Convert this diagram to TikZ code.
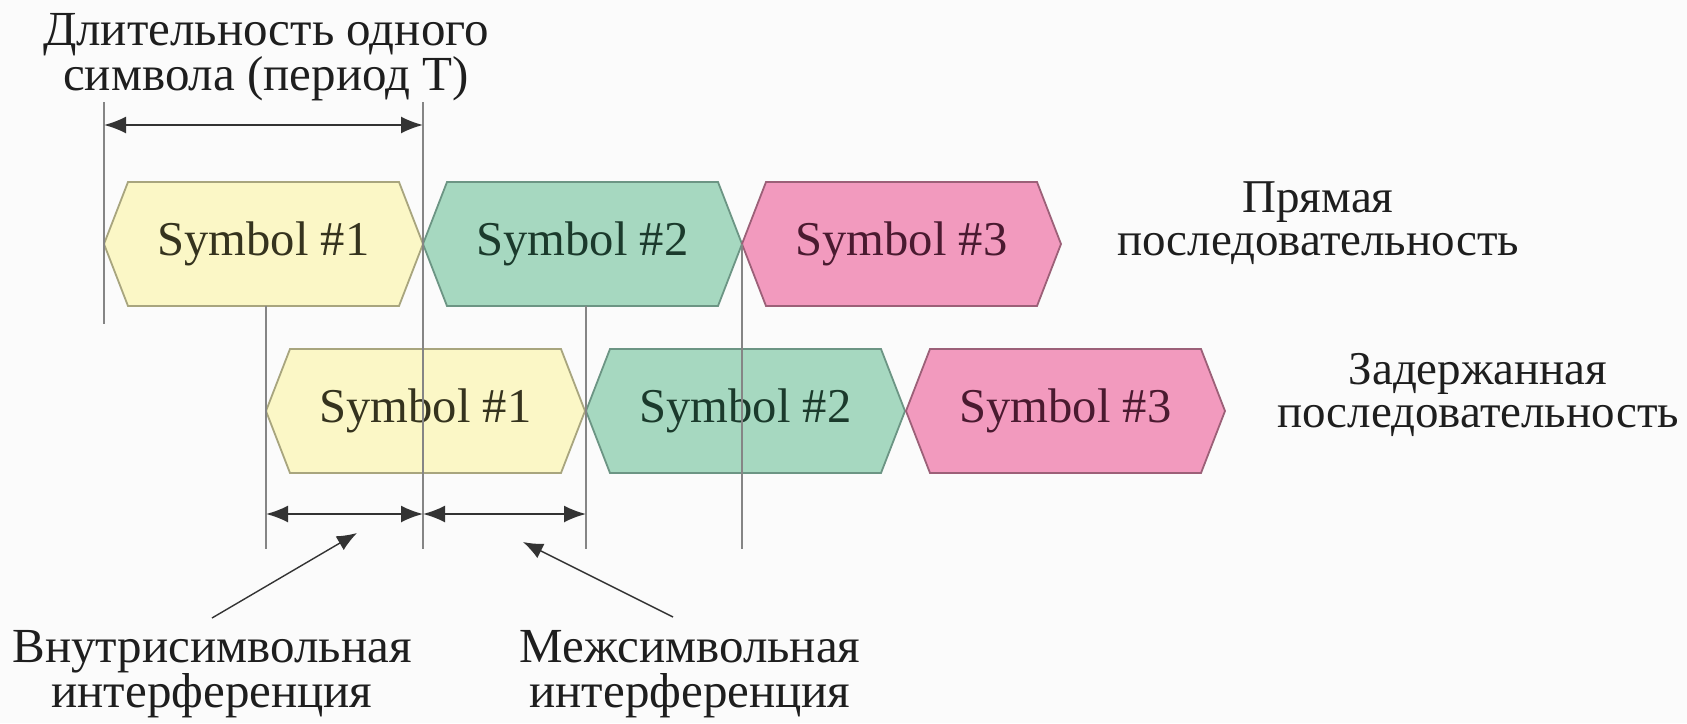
\documentclass[tikz,border=0pt]{standalone}
\usepackage{fontspec}
\setmainfont{Liberation Serif}
\usetikzlibrary{arrows.meta}
\definecolor{bgwhite}{HTML}{FBFBFB}
\definecolor{yelfill}{HTML}{FBF7C6}
\definecolor{yeledge}{HTML}{A8A57E}
\definecolor{yeltext}{HTML}{35331E}
\definecolor{grnfill}{HTML}{A6D8C0}
\definecolor{grnedge}{HTML}{6C9584}
\definecolor{grntext}{HTML}{1B3A2C}
\definecolor{pnkfill}{HTML}{F29ABE}
\definecolor{pnkedge}{HTML}{9C6078}
\definecolor{pnktext}{HTML}{4A1A30}
\definecolor{guidegray}{HTML}{858585}
\definecolor{arrowgray}{HTML}{333333}
\definecolor{textdark}{HTML}{1E1E1E}
\tikzset{
  hexyel/.style={fill=yelfill, draw=yeledge, line width=0.9pt},
  hexgrn/.style={fill=grnfill, draw=grnedge, line width=0.9pt},
  hexpnk/.style={fill=pnkfill, draw=pnkedge, line width=0.9pt},
  symtext/.style={font=\fontsize{24.3}{21.5}\selectfont, inner sep=0pt},
  lbl/.style={font=\fontsize{23.5}{21.5}\selectfont, align=center, text=textdark, inner sep=0pt},
  lblbig/.style={lbl, font=\fontsize{24.5}{22.5}\selectfont},
  guide/.style={draw=guidegray, line width=1.2pt},
  dimarrow/.style={draw=arrowgray, line width=1pt, {Latex[length=11pt,width=8.5pt]}-{Latex[length=11pt,width=8.5pt]}},
  pointer/.style={draw=arrowgray, line width=0.7pt, -{Latex[length=10pt,width=8pt]}}
}
% name, left x, mid y, hex style, text colour, text
\newcommand{\symhex}[6]{%
  \path[#4] (#2,#3) -- (#2+24,#3-62) -- (#2+295,#3-62) -- (#2+319,#3)
    -- (#2+295,#3+62) -- (#2+24,#3+62) -- cycle;
  \node[symtext, text=#5] (#1) at (#2+159.5,#3) {#6};
  \coordinate (#1-w) at (#2,#3);
  \coordinate (#1-e) at (#2+319,#3);
}
\begin{document}
\begin{tikzpicture}[x=0.5pt,y=-0.5pt]
\useasboundingbox[fill=bgwhite] (0,0) rectangle (1687,723);

% top row (direct sequence)
\symhex{a1}{104}{244}{hexyel}{yeltext}{Symbol \#1}
\symhex{a2}{423}{244}{hexgrn}{grntext}{Symbol \#2}
\symhex{a3}{742}{244}{hexpnk}{pnktext}{Symbol \#3}
% bottom row (delayed sequence)
\symhex{b1}{266}{411}{hexyel}{yeltext}{Symbol \#1}
\symhex{b2}{586}{411}{hexgrn}{grntext}{Symbol \#2}
\symhex{b3}{906}{411}{hexpnk}{pnktext}{Symbol \#3}

% guide line end points
\coordinate (g1t) at (104,102);
\coordinate (g1b) at (104,324);
\coordinate (g2t) at (423,102);
\coordinate (g2b) at (423,549);
\coordinate (g3t) at (266,306);
\coordinate (g3b) at (266,549);
\coordinate (g4t) at (586,306);
\coordinate (g4b) at (586,549);
\coordinate (g5b) at (742,549);

\draw[guide] (g1t) -- (g1b);
\draw[guide] (g2t) -- (g2b);
\draw[guide] (g3t) -- (g3b);
\draw[guide] (g4t) -- (g4b);
\draw[guide] (a2-e) -- (g5b);

% dimension arrows
\coordinate (p1) at (104,125);
\coordinate (p2) at (423,125);
\draw[dimarrow] (p1) -- (p2);
\coordinate (d1) at (266,514);
\coordinate (d2) at (423,514);
\coordinate (d3) at (586,514);
\draw[dimarrow] (d1) -- (d2);
\draw[dimarrow] (d2) -- (d3);

% labels (anchor=base = baseline of the last line)
\node[lblbig, anchor=base] (title) at (266,90) {Длительность одного\\символа (период Т)};
\node[lbl, anchor=base] (direct) at (1318,255) {Прямая\\последовательность};
\node[lbl, anchor=base] (delayed) at (1478,427) {Задержанная\\последовательность};
\node[lblbig, anchor=base] (intra) at (212,707) {Внутрисимвольная\\интерференция};
\node[lblbig, anchor=base] (inter) at (690,707) {Межсимвольная\\интерференция};

% pointers
\coordinate (intratail) at (212,618);
\coordinate (intratip) at (357,533);
\coordinate (intertail) at (673,617);
\coordinate (intertip) at (523,542);
\draw[pointer] (intratail) -- (intratip);
\draw[pointer] (intertail) -- (intertip);
\end{tikzpicture}
\end{document}
